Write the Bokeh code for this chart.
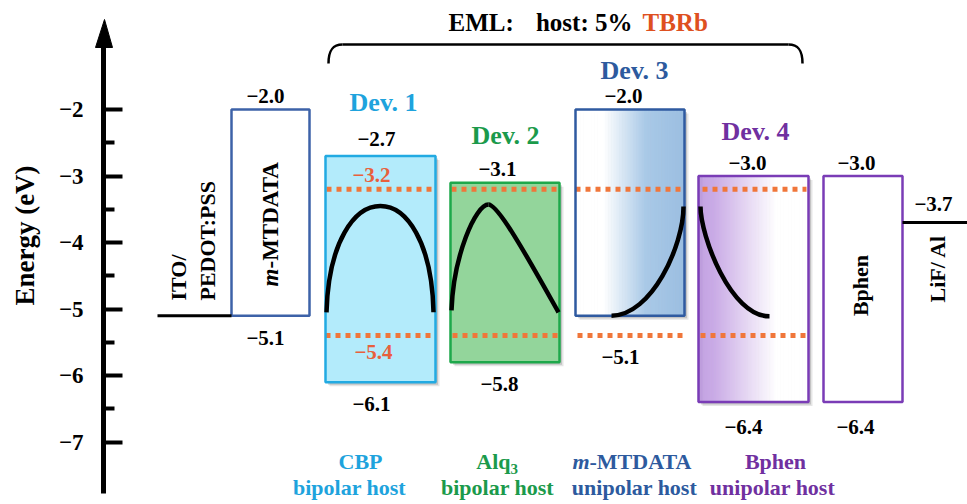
import numpy as np
from bokeh.plotting import figure
from bokeh.models import Range1d, LinearAxis, FixedTicker, ColumnDataSource, Label
from bokeh.core.properties import value
from bokeh.embed import file_html
from bokeh.resources import INLINE

# ---------------- data ----------------
layer_names = ["m-MTDATA", "CBP", "Alq3", "m-MTDATA", "Bphen", "Bphen"]
lumo_eV = [-2.0, -2.7, -3.1, -2.0, -3.0, -3.0]
homo_eV = [-5.1, -6.1, -5.8, -5.1, -6.4, -6.4]
lumo_text = ["−2.0", "−2.7", "−3.1", "−2.0", "−3.0", "−3.0"]
homo_text = ["−5.1", "−6.1", "−5.8", "−5.1", "−6.4", "−6.4"]
anode_eV = -5.1            # ITO/PEDOT:PSS
cathode_eV = -3.7          # LiF/Al
cathode_text = "−3.7"
dopant_lumo_eV = -3.2      # TBRb
dopant_homo_eV = -5.4
dopant_lumo_text = "−3.2"
dopant_homo_text = "−5.4"
device_names = ["Dev. 1", "Dev. 2", "Dev. 3", "Dev. 4"]
host_kind = ["bipolar host", "bipolar host", "unipolar host", "unipolar host"]
axis_ticks = [-7, -6, -5, -4, -3, -2]
axis_tick_labels = ["−7", "−6", "−5", "−4", "−3", "−2"]
axis_minor_ticks = [-6.5, -5.5, -4.5, -3.5, -2.5]
# recombination-zone profiles (cubic Bezier segments; y in eV)
prof_y0 = [-5.05, -5.02, -3.43, -5.10, -3.46]
prof_cy0 = [-2.92, -4.20, -3.43, -5.10, -3.90]
prof_cy1 = [-2.92, -3.43, -4.30, -4.05, -5.11]
prof_y1 = [-5.05, -3.43, -5.05, -3.46, -5.11]

# ---------------- layout (pixels) ----------------
W, H = 967, 504
PX_PER_EV = 66.5
E_TOP = -2.0 + 109 / PX_PER_EV
E_BOT = E_TOP - H / PX_PER_EV
AXIS_X = 103


def E(ypx):
    return E_TOP - ypx / PX_PER_EV


def dE(px):
    return px / PX_PER_EV


box_x0 = [231, 325, 450, 575, 698, 823]
box_x1 = [309, 435, 559, 684, 808, 902]
box_line = ["#3D62A8", "#22AAE2", "#1EA84B", "#2F5AA0", "#7A3CB6", "#7A3CB6"]
prof_x0 = [326, 451, 488, 611, 700]
prof_cx0 = [330, 453, 498, 651, 700]
prof_cx1 = [430, 475, 530, 683, 730]
prof_x1 = [433, 488, 558, 683, 769]

SERIF = "Liberation Serif"
ORANGE_DOT = "#F0763A"
ORANGE_TXT = "#E8603C"
dev_colors = ["#1EA3DD", "#1B9A4B", "#2D5A9E", "#7030A0"]

p = figure(width=W, height=H, x_range=Range1d(0, W), y_range=Range1d(E_BOT, E_TOP),
           output_backend="svg", toolbar_location=None,
           x_axis_location=None, y_axis_location=None,
           min_border_left=0, min_border_right=0, min_border_top=0, min_border_bottom=0)
p.outline_line_color = None
p.grid.visible = False
p.background_fill_color = "white"
p.border_fill_color = "white"

# energy axis, drawn at a fixed x position inside the frame
yaxis = LinearAxis(ticker=FixedTicker(ticks=axis_ticks, minor_ticks=axis_minor_ticks),
                   fixed_location=AXIS_X, bounds=(E(493), E(30)),
                   major_label_overrides={t: l for t, l in zip(axis_ticks, axis_tick_labels)},
                   axis_line_width=5, axis_line_color="black",
                   major_tick_in=19, major_tick_out=0, major_tick_line_width=4,
                   minor_tick_in=11, minor_tick_out=0, minor_tick_line_width=4,
                   major_label_standoff=20, major_label_text_font=SERIF,
                   major_label_text_font_size="23px", major_label_text_font_style="bold",
                   major_label_text_color="black")
p.add_layout(yaxis, "left")
p.patch(x=[AXIS_X - 8, AXIS_X + 1, AXIS_X + 9], y=[E(47), E(19), E(47)],
        fill_color="black", line_color="black", line_width=1)
p.add_layout(Label(x=24, y=E(235), text="Energy (eV)", angle=np.pi / 2, text_align="center",
                   text_baseline="middle", text_font=SERIF, text_font_size="27px",
                   text_font_style="bold", text_color="black"))

# shadows behind the emissive-layer boxes
eml = [1, 2, 3, 4]
for off, alpha in [(4, 0.10), (2.5, 0.15)]:
    p.quad(left=[box_x0[i] + off for i in eml], right=[box_x1[i] + off for i in eml],
           top=[lumo_eV[i] - dE(off) for i in eml], bottom=[homo_eV[i] - dE(off) for i in eml],
           fill_color="black", fill_alpha=alpha, line_color=None)

# solid fills
p.quad(left=[box_x0[0], box_x0[5]], right=[box_x1[0], box_x1[5]],
       top=[lumo_eV[0], lumo_eV[5]], bottom=[homo_eV[0], homo_eV[5]],
       fill_color="white", line_color=None)
p.quad(left=[box_x0[1], box_x0[2]], right=[box_x1[1], box_x1[2]],
       top=[lumo_eV[1], lumo_eV[2]], bottom=[homo_eV[1], homo_eV[2]],
       fill_color=["#B3EBFB", "#93D59B"], line_color=None)


# gradient fills
def hex2rgb(h):
    h = h.lstrip("#")
    return [int(h[k:k + 2], 16) for k in (0, 2, 4)]


def gradient(i, stops, n=70):
    xs = np.linspace(box_x0[i], box_x1[i], n + 1)
    mids = 0.5 * (xs[:-1] + xs[1:])
    sx = [s[0] for s in stops]
    rgb = np.array([hex2rgb(s[1]) for s in stops])
    cols = []
    for m in mids:
        c = [int(round(np.interp(m, sx, rgb[:, k]))) for k in range(3)]
        cols.append("#%02x%02x%02x" % tuple(c))
    p.quad(left=xs[:-1], right=xs[1:] + 0.6, top=[lumo_eV[i]] * n, bottom=[homo_eV[i]] * n,
           fill_color=cols, line_color=None)


gradient(3, [(575, "#FFFFFF"), (603, "#FFFFFF"), (645, "#A9C9E7"), (684, "#9BBEE1")])
gradient(4, [(698, "#B696D6"), (704, "#C6A6E4"), (713, "#C9AAE6"), (776, "#FFFFFF"), (808, "#FFFFFF")])

# dopant (TBRb) levels
top_x0 = [326, 451, 575, 702]
top_x1 = [432, 558, 682, 806]
bot_x0 = [325, 452, 577, 700]
bot_x1 = [433, 558, 685, 810]
p.segment(x0=top_x0, x1=top_x1, y0=[dopant_lumo_eV] * 4, y1=[dopant_lumo_eV] * 4,
          line_color=ORANGE_DOT, line_width=5, line_dash="5 5")
p.segment(x0=bot_x0, x1=bot_x1, y0=[dopant_homo_eV] * 4, y1=[dopant_homo_eV] * 4,
          line_color=ORANGE_DOT, line_width=5, line_dash="5 5")

# box outlines
p.quad(left=box_x0, right=box_x1, top=lumo_eV, bottom=homo_eV,
       fill_color=None, line_color=box_line, line_width=2.5)

# electrodes
p.segment(x0=[157, box_x1[5]], x1=[box_x0[0], W], y0=[anode_eV, cathode_eV], y1=[anode_eV, cathode_eV],
          line_color="black", line_width=3)

# recombination-zone profiles
p.bezier(x0=prof_x0, y0=prof_y0, x1=prof_x1, y1=prof_y1,
         cx0=prof_cx0, cy0=prof_cy0, cx1=prof_cx1, cy1=prof_cy1,
         line_color="black", line_width=4.5)


def txt(x, y, t, color="black", size="21px", style="bold", align="center", baseline="middle", angle=0.0):
    cols = color if isinstance(color, list) else [color] * len(t)
    src = ColumnDataSource(dict(x=x, y=y, t=t, c=cols))
    p.text(x="x", y="y", text="t", source=src, text_color="c", text_font=value(SERIF),
           text_font_size=size, text_font_style=style, text_align=align,
           text_baseline=baseline, angle=angle)


# level labels
lumo_lab_x = [265, 376, 497, 623, 747, 856]
lumo_lab_off = [14, 17, 14, 14, 13, 13]
homo_lab_x = [265, 371, 499, 620, 743, 855]
homo_lab_off = [22, 22, 22, 41, 25, 25]
txt(lumo_lab_x, [lumo_eV[i] + dE(lumo_lab_off[i]) for i in range(6)], lumo_text)
txt(homo_lab_x, [homo_eV[i] - dE(homo_lab_off[i]) for i in range(6)], homo_text)
txt([933], [cathode_eV + dE(19)], [cathode_text])
txt([371], [dopant_lumo_eV + dE(14)], [dopant_lumo_text], color=ORANGE_TXT)
txt([373], [dopant_homo_eV - dE(16)], [dopant_homo_text], color=ORANGE_TXT)

# device names
txt([383, 505, 634, 755], [E(102), E(135), E(70), E(131)], device_names, color=dev_colors, size="26px")

# rotated layer names
rot = np.pi / 2
txt([178, 207], [E(300), E(300)], ["ITO/", "PEDOT:PSS"], size="22px", align="left", angle=rot)
txt([270], [E(268)], ["m"], size="23px", style="bold italic", align="right", angle=rot)
txt([270], [E(268)], ["-MTDATA"], size="23px", align="left", angle=rot)
txt([860], [E(285)], ["Bphen"], size="22px", angle=rot)
txt([937], [E(268)], ["LiF/ Al"], size="22px", angle=rot)

# host names under the devices
y1, y2 = E(461), E(487)
txt([360], [y1], ["CBP"], color=dev_colors[0], size="22px")
txt([510], [y1], ["Alq"], color=dev_colors[1], size="22px", align="right")
txt([510], [y1 - dE(7)], ["3"], color=dev_colors[1], size="15px", align="left")
txt([589], [y1], ["m"], color=dev_colors[2], size="22px", style="bold italic", align="right")
txt([589], [y1], ["-MTDATA"], color=dev_colors[2], size="22px", align="left")
txt([775], [y1], ["Bphen"], color=dev_colors[3], size="22px")
txt([349, 497, 634, 772], [y2] * 4, host_kind, color=dev_colors, size="22px")

# EML brace and title
p.line(x=[342, 788], y=[E(44), E(44)], line_color="black", line_width=2.5)
p.bezier(x0=[328, 788], y0=[E(63), E(44)], x1=[342, 802], y1=[E(44), E(63)],
         cx0=[328, 798], cy0=[E(50), E(44)], cx1=[332, 802], cy1=[E(44), E(50)],
         line_color="black", line_width=2.5)
txt([448], [E(22)], ["EML:"], size="25px", align="left")
txt([632], [E(22)], ["host: 5%"], size="25px", align="right")
txt([642], [E(22)], ["TBRb"], color="#DE5020", size="25px", align="left")

open("out.html", "w").write(file_html(p, INLINE))
